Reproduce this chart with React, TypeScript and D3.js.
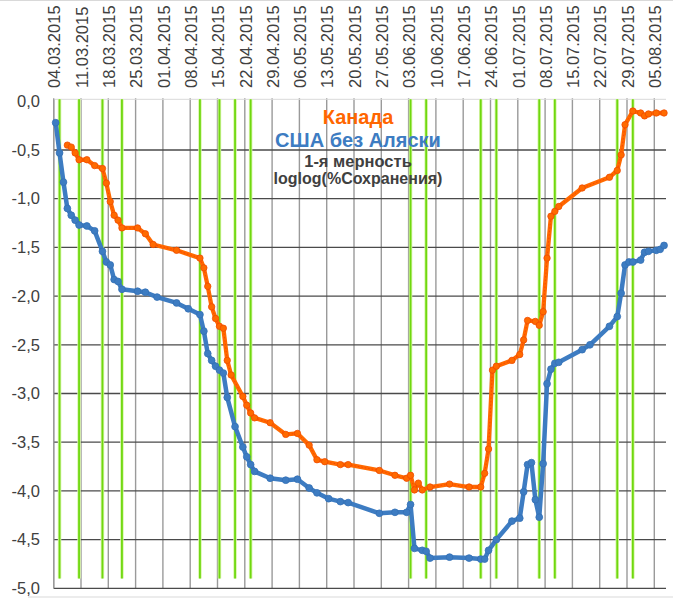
import React from "react";
import * as d3 from "d3";

const tickLabels = [
  "04.03.2015","11.03.2015","18.03.2015","25.03.2015","01.04.2015","08.04.2015",
  "15.04.2015","22.04.2015","29.04.2015","06.05.2015","13.05.2015","20.05.2015",
  "27.05.2015","03.06.2015","10.06.2015","17.06.2015","24.06.2015","01.07.2015",
  "08.07.2015","15.07.2015","22.07.2015","29.07.2015","05.08.2015",
];
const yTicks = [0, -0.5, -1, -1.5, -2, -2.5, -3, -3.5, -4, -4.5, -5];

const usaDates = [
  "04.03","05.03","06.03","07.03","08.03","09.03","10.03","12.03","14.03","16.03",
  "17.03","18.03","19.03","20.03","21.03","25.03","27.03","30.03","04.04","07.04",
  "10.04","11.04","12.04","13.04","14.04","15.04","16.04","17.04","19.04","21.04",
  "22.04","23.04","24.04","28.04","02.05","05.05","08.05","10.05","13.05","16.05",
  "18.05","26.05","30.05","02.06","03.06","04.06","06.06","07.06","08.06","13.06",
  "18.06","21.06","22.06","23.06","25.06","29.06","01.07","02.07","03.07","04.07",
  "05.07","06.07","07.07","08.07","09.07","10.07","11.07","17.07","19.07","24.07",
  "26.07","27.07","28.07","29.07","30.07","01.08","02.08","03.08","05.08","06.08",
  "07.08",
];
const usaValues = [
  -0.22,-0.53,-0.83,-1.10,-1.17,-1.22,-1.27,-1.28,-1.33,-1.54,
  -1.65,-1.68,-1.83,-1.85,-1.93,-1.95,-1.96,-2.01,-2.07,-2.13,
  -2.19,-2.36,-2.59,-2.66,-2.72,-2.76,-2.79,-3.04,-3.34,-3.55,
  -3.65,-3.73,-3.80,-3.87,-3.89,-3.88,-3.97,-4.02,-4.08,-4.11,
  -4.12,-4.23,-4.22,-4.22,-4.14,-4.59,-4.61,-4.62,-4.69,-4.68,
  -4.69,-4.70,-4.70,-4.61,-4.50,-4.31,-4.28,-4.01,-3.73,-3.71,
  -4.09,-4.27,-3.72,-2.90,-2.75,-2.69,-2.68,-2.55,-2.50,-2.31,
  -2.21,-1.97,-1.68,-1.65,-1.65,-1.63,-1.55,-1.54,-1.53,-1.52,
  -1.48,
];

const canadaDates = [
  "07.03","08.03","09.03","10.03","12.03","14.03","16.03","17.03","18.03","19.03",
  "20.03","21.03","25.03","27.03","29.03","04.04","10.04","11.04","12.04","13.04",
  "14.04","15.04","16.04","17.04","18.04","21.04","22.04","23.04","24.04","28.04",
  "02.05","05.05","08.05","10.05","12.05","16.05","18.05","26.05","30.05","02.06",
  "03.06","04.06","05.06","06.06","08.06","13.06","18.06","21.06","22.06","23.06",
  "24.06","25.06","29.06","01.07","02.07","03.07","05.07","06.07","07.07","08.07",
  "09.07","10.07","11.07","17.07","24.07","26.07","27.07","28.07","30.07","01.08",
  "02.08","03.08","05.08","07.08",
];
const canadaValues = [
  -0.45,-0.47,-0.53,-0.60,-0.60,-0.66,-0.69,-0.84,-1.03,-1.17,
  -1.22,-1.30,-1.30,-1.36,-1.47,-1.53,-1.61,-1.71,-1.90,-2.11,
  -2.23,-2.31,-2.33,-2.66,-2.81,-3.03,-3.12,-3.20,-3.25,-3.30,
  -3.42,-3.41,-3.53,-3.68,-3.70,-3.73,-3.73,-3.79,-3.84,-3.87,
  -3.84,-3.99,-3.92,-3.99,-3.96,-3.93,-3.96,-3.96,-3.82,-3.57,
  -2.76,-2.72,-2.66,-2.60,-2.45,-2.25,-2.26,-2.30,-2.16,-1.61,
  -1.18,-1.13,-1.08,-0.89,-0.78,-0.71,-0.55,-0.24,-0.10,-0.12,
  -0.15,-0.13,-0.12,-0.12,
];

const eventDates = [
  "05.03","10.03","16.03","21.03","10.04","15.04","19.04","23.04",
  "03.06","07.06","21.06","25.06","06.07","10.07","26.07","30.07",
];
const eventTop = 0;
const eventBottom = -4.9;

const titleLines = ["Канада", "США без Аляски", "1-я мерность", "loglog(%Сохранения)"];

const parseFull = d3.utcParse("%d.%m.%Y");
const parseDay = (s: string) => parseFull(s + ".2015") as Date;
const mid = (d: Date) => d3.utcHour.offset(d, 12);

const W = 673;
const H = 600;
const FONT = "'Liberation Sans', Arial, sans-serif";

export default function App() {
  const x = d3
    .scaleUtc()
    .domain([parseDay("04.03"), parseDay("08.08")])
    .range([53.7, 666]);
  const y = d3.scaleLinear().domain([0, -5]).range([101.3, 588.3]);

  const usa = usaDates.map((d, i) => ({ d: mid(parseDay(d)), v: usaValues[i] }));
  const can = canadaDates.map((d, i) => ({ d: mid(parseDay(d)), v: canadaValues[i] }));
  const line = d3
    .line<{ d: Date; v: number }>()
    .x((p) => x(p.d))
    .y((p) => y(p.v));

  const ticks = tickLabels.map((t) => ({ t, d: parseFull(t) as Date }));
  const [x0, x1] = x.range();

  return (
    <svg
      width={W}
      height={H}
      style={{ position: "absolute", left: 0, top: 0, background: "#fff" }}
      fontFamily={FONT}
    >
      {/* outer frame fragments */}
      <line x1={0} x2={W} y1={0.5} y2={0.5} stroke="#d9d9d9" />
      <line x1={28} x2={W} y1={597} y2={597} stroke="#d9d9d9" />

      {/* vertical gridlines */}
      {ticks.map(({ t, d }) => (
        <line key={"vg" + t} x1={x(d)} x2={x(d)} y1={y(0) - 3} y2={y(-5)} stroke="#9a9a9a" strokeWidth={1.4} />
      ))}
      {/* horizontal gridlines */}
      {yTicks.filter((v) => v !== 0).map((v) => (
        <line key={"hg" + v} x1={x0} x2={x1} y1={y(v)} y2={y(v)} stroke="#4a4a4a" strokeWidth={1.3} />
      ))}
      <line x1={x0} x2={x1} y1={y(0) - 2} y2={y(0) - 2} stroke="#d9d9d9" strokeWidth={1} />
      <line x1={x0} x2={x0} y1={y(0) - 2} y2={y(-5)} stroke="#9a9a9a" strokeWidth={1.4} />

      {/* event lines */}
      {eventDates.map((e) => {
        const ex = x(mid(parseDay(e)));
        return (
          <g key={"ev" + e}>
            <line x1={ex} x2={ex} y1={y(eventTop) - 2} y2={y(eventBottom)} stroke="#d8f5a8" strokeWidth={3.5} />
            <line x1={ex} x2={ex} y1={y(eventTop) - 2} y2={y(eventBottom)} stroke="#6fd80f" strokeWidth={1.8} />
          </g>
        );
      })}

      {/* y labels */}
      {yTicks.map((v) => (
        <text
          key={"yl" + v}
          x={40}
          y={y(v)}
          dy="0.35em"
          textAnchor="end"
          fontSize={16.5}
          fill="#404040"
        >
          {d3.format(".1f")(v).replace(".", ",").replace("−", "-")}
        </text>
      ))}
      {/* x labels */}
      {ticks.map(({ t, d }) => (
        <text
          key={"xl" + t}
          transform={`translate(${x(d) + 1},88) rotate(-90)`}
          dy="0.35em"
          textAnchor="start"
          fontSize={16.5}
          fill="#404040"
        >
          {t}
        </text>
      ))}

      {/* Canada */}
      <path d={line(can) || ""} fill="none" stroke="#ff6a00" strokeWidth={4.3} strokeLinejoin="round" />
      <path d={line(can) || ""} fill="none" stroke="#ff3a00" strokeWidth={0.8} strokeDasharray="1.5 2" />
      {can.map((p, i) => (
        <circle key={"cm" + i} cx={x(p.d)} cy={y(p.v)} r={3.2} fill="#ff6a00" stroke="#f04a00" strokeWidth={0.8} />
      ))}

      {/* USA */}
      <path d={line(usa) || ""} fill="none" stroke="#3d7cc2" strokeWidth={4.5} strokeLinejoin="round" />
      {usa.map((p, i) => (
        <circle key={"um" + i} cx={x(p.d)} cy={y(p.v)} r={3.4} fill="#3d7cc2" stroke="#3470b5" strokeWidth={0.8} />
      ))}

      {/* title / legend text */}
      <text x={358} y={117} dy="0.35em" textAnchor="middle" fontSize={20} fontWeight="bold" fill="#ff6600">
        {titleLines[0]}
      </text>
      <text x={358} y={140} dy="0.35em" textAnchor="middle" fontSize={20} fontWeight="bold" fill="#3d7cc2">
        {titleLines[1]}
      </text>
      <text x={358} y={161} dy="0.35em" textAnchor="middle" fontSize={16.5} fontWeight="bold" fill="#404040">
        {titleLines[2]}
      </text>
      <text x={358} y={178} dy="0.35em" textAnchor="middle" fontSize={16} fontWeight="bold" fill="#404040">
        {titleLines[3]}
      </text>
    </svg>
  );
}
